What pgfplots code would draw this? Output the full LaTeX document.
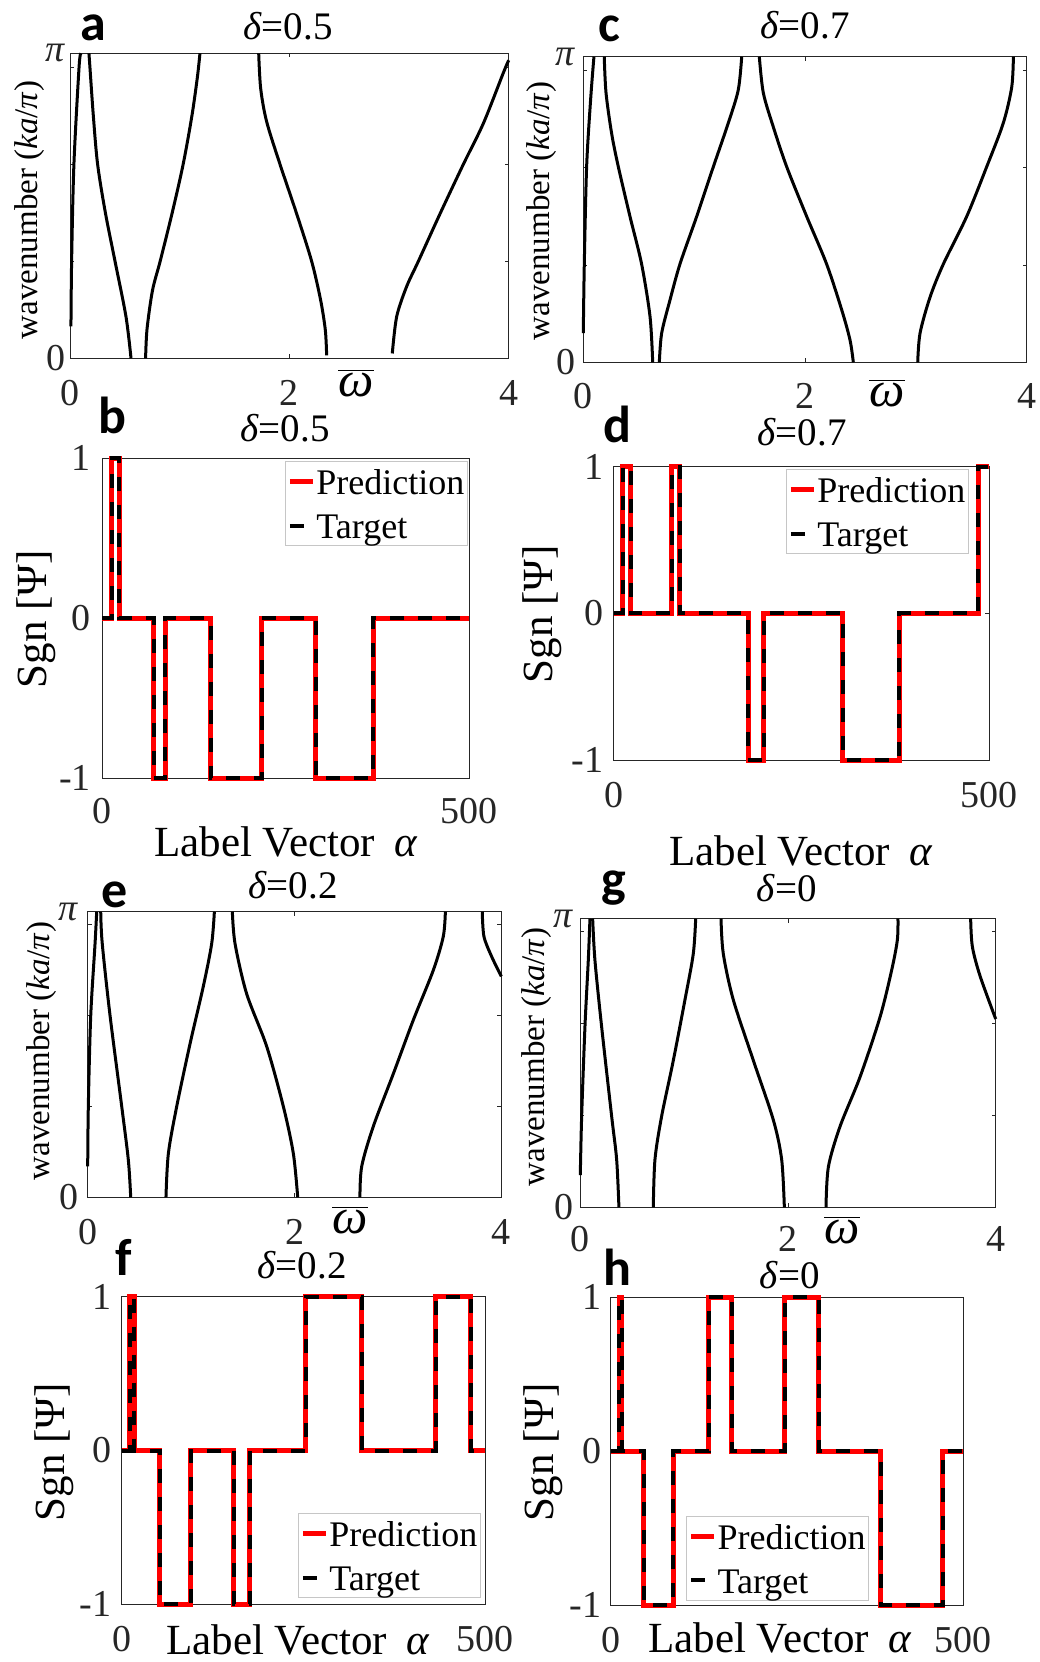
\documentclass[border=0pt]{standalone}
\usepackage{pgfplots}
\pgfplotsset{compat=1.18}
\usepackage{pgfplotstable}
\usepackage{fontspec}
\setmainfont{Liberation Serif}
\newfontfamily\panelfont{Carlito}
\definecolor{axgray}{HTML}{262626}

\pgfplotsset{
  base/.style={scale only axis, clip=false,
    axis line style={axgray, line width=0.5pt},
    tick style={axgray, line width=0.5pt},
    major tick length=2pt, tick align=inside,
    xtick pos=both, ytick pos=both,
    /pgf/number format/assume math mode=true,
    tick label style={font=\fontsize{19}{22}\selectfont, inner sep=0pt, text=axgray}},
  disp/.style={base, xmin=0, xmax=4, ymin=0, ymax=3.14159,
    xtick={0,2,4}, xticklabels={0,2,4},
    ytick={0,1,2,3}, yticklabels={0,{},{},{}},
    extra y ticks={3.14159}, extra y tick labels={\textit{π}},
    extra y tick style={major tick length=0pt}},
  sgn/.style={base, xmin=0, xmax=500, ymin=-1, ymax=1,
    xtick={0,500}, xticklabels={0,500},
    ytick={-1,0,1}, yticklabels={-1,0,1},
    legend style={draw=gray!45, line width=0.6pt, fill=white,
      font=\fontsize{18}{20}\selectfont, inner xsep=1pt, inner ysep=1.5pt,
      row sep=5pt, nodes={inner sep=0.5pt},
      cells={anchor=west}},
    legend image code/.code={\draw[##1] (0pt,0pt) -- (11.5pt,0pt);}},
  curve/.style={black, line width=1.5pt, smooth},
  pred/.style={red, line width=2.5pt},
  targ/.style={black, line width=2pt, dash pattern=on 7pt off 7pt},
}

\pgfplotstableread{
x y
0 0
13 0
13 1
23 1
23 0
70 0
70 -1
86 -1
86 0
148 0
148 -1
217 -1
217 0
291 0
291 -1
369 -1
369 0
500 0
}\tabB

\pgfplotstableread{
x y
0 0
12 0
12 1
23 1
23 0
77 0
77 1
88 1
88 0
179 0
179 -1
200 -1
200 0
305 0
305 -1
380 -1
380 0
485 0
485 1
500 1
}\tabD

\pgfplotstableread{
x y
0 0
11 0
11 1
17 1
17 0
52 0
52 -1
95 -1
95 0
154 0
154 -1
176 -1
176 0
253 0
253 1
330 1
330 0
432 0
432 1
480 1
480 0
500 0
}\tabF

\pgfplotstableread{
x y
0 0
12 0
12 1
16 1
16 0
47 0
47 -1
89 -1
89 0
139 0
139 1
172 1
172 0
247 0
247 1
295 1
295 0
383 0
383 -1
471 -1
471 0
500 0
}\tabH

\newcommand{\wbar}{$\overline{\hbox{\itshape ω}}$}
\newcommand{\ls}{\rule[-5pt]{0pt}{19.5pt}}

\begin{document}
\begin{tikzpicture}
\useasboundingbox (0pt,0pt) rectangle (520pt,-831pt);

% ---------- panel a ----------
\begin{axis}[disp, at={(35.15pt,-179.15pt)}, anchor=south west,
  width=219.2pt, height=152.5pt,
  xticklabel style={yshift=-11pt}, yticklabel style={xshift=-2pt}]
\addplot[curve] coordinates {(0.006,0.33) (0.012,1.0) (0.033,2.0) (0.08,3.0) (0.097,3.1416)};
\addplot[curve] coordinates {(0.170,3.1416) (0.179,3.0) (0.21,2.5) (0.249,2.0) (0.32,1.5) (0.408,1.0) (0.508,0.43) (0.554,0)};
\addplot[curve] coordinates {(0.687,0) (0.70,0.3) (0.75,0.7) (0.82,1.0) (0.93,1.5) (1.03,2.0) (1.11,2.5) (1.16,2.9) (1.183,3.1416)};
\addplot[curve] coordinates {(1.719,3.1416) (1.737,2.78) (1.791,2.44) (1.913,2.0) (2.065,1.49) (2.202,1.0) (2.284,0.60) (2.327,0.29) (2.339,0.03)};
\addplot[curve] coordinates {(2.938,0.05) (2.978,0.43) (3.069,0.74) (3.176,1.0) (3.374,1.49) (3.587,2.0) (3.769,2.42) (3.951,2.94) (4.0,3.07)};
\end{axis}

% ---------- panel c ----------
\begin{axis}[disp, at={(291.65pt,-181.15pt)}, anchor=south west,
  width=221.7pt, height=152.8pt,
  xticklabel style={yshift=-10.5pt}, yticklabel style={xshift=-3.5pt}]
\addplot[curve] coordinates {(0,0.30) (0.009,1.01) (0.030,2.01) (0.066,2.70) (0.096,3.1416)};
\addplot[curve] coordinates {(0.189,3.1416) (0.205,2.77) (0.256,2.35) (0.316,2.01) (0.421,1.50) (0.526,1.01) (0.602,0.47) (0.626,0)};
\addplot[curve] coordinates {(0.686,0) (0.707,0.30) (0.782,0.64) (0.872,1.01) (1.023,1.50) (1.173,2.01) (1.308,2.46) (1.398,2.80) (1.429,3.1416)};
\addplot[curve] coordinates {(1.588,3.1416) (1.624,2.77) (1.714,2.42) (1.835,2.01) (2.015,1.50) (2.195,1.01) (2.331,0.54) (2.406,0.23) (2.436,0)};
\addplot[curve] coordinates {(3.017,0) (3.038,0.30) (3.128,0.67) (3.248,1.01) (3.459,1.50) (3.639,2.01) (3.789,2.46) (3.865,2.83) (3.880,3.1416)};
\end{axis}

% ---------- panel b ----------
\begin{axis}[sgn, at={(51.15pt,-389.15pt)}, anchor=south west,
  width=183.5pt, height=160pt,
  xticklabel style={yshift=-10pt}, yticklabel style={xshift=-5.5pt},
  legend style={at={(0.9965,0.9916)}, anchor=north east}]
\addplot[pred] table {\tabB};
\addplot[targ] table {\tabB};
\legend{\ls Prediction, \ls Target}
\end{axis}

% ---------- panel d ----------
\begin{axis}[sgn, at={(306.85pt,-380pt)}, anchor=south west,
  width=187.8pt, height=146.65pt,
  xticklabel style={yshift=-11pt}, yticklabel style={xshift=-5pt},
  legend style={at={(0.946,0.992)}, anchor=north east}]
\addplot[pred] table {\tabD};
\addplot[targ] table {\tabD};
\legend{\ls Prediction, \ls Target}
\end{axis}

% ---------- panel e ----------
\begin{axis}[disp, at={(43.85pt,-598.65pt)}, anchor=south west,
  width=206.8pt, height=142.8pt,
  xticklabel style={yshift=-11pt}, yticklabel style={xshift=-4.5pt}]
\addplot[curve] coordinates {(0,0.34) (0.006,1.0) (0.029,1.99) (0.071,2.79) (0.087,3.1416)};
\addplot[curve] coordinates {(0.126,3.1416) (0.14,2.8) (0.216,2.0) (0.329,1.0) (0.393,0.41) (0.416,0)};
\addplot[curve] coordinates {(0.757,0) (0.780,0.48) (0.861,1.0) (0.990,1.69) (1.118,2.32) (1.199,2.79) (1.225,3.1416)};
\addplot[curve] coordinates {(1.399,3.1416) (1.425,2.79) (1.537,2.24) (1.731,1.66) (1.892,1.0) (1.989,0.48) (2.031,0)};
\addplot[curve] coordinates {(2.633,0) (2.650,0.34) (2.762,0.78) (2.956,1.36) (3.149,1.95) (3.343,2.50) (3.439,2.87) (3.459,3.1416)};
\addplot[curve] coordinates {(3.816,3.1416) (3.832,2.87) (3.906,2.65) (4.0,2.43)};
\end{axis}

% ---------- panel g ----------
\begin{axis}[disp, at={(290.15pt,-603.65pt)}, anchor=south west,
  width=207.7pt, height=144.3pt,
  xticklabel style={yshift=-9.5pt}, yticklabel style={xshift=-3pt}]
\addplot[curve] coordinates {(0,0.35) (0.013,0.99) (0.045,1.97) (0.077,2.69) (0.093,3.1416)};
\addplot[curve] coordinates {(0.119,3.1416) (0.141,2.69) (0.205,1.97) (0.302,0.99) (0.350,0.52) (0.372,0)};
\addplot[curve] coordinates {(0.703,0) (0.719,0.52) (0.783,0.99) (0.896,1.60) (1.008,2.26) (1.088,2.76) (1.111,3.1416)};
\addplot[curve] coordinates {(1.355,3.1416) (1.377,2.76) (1.473,2.26) (1.666,1.60) (1.859,0.95) (1.939,0.52) (1.965,0)};
\addplot[curve] coordinates {(2.366,0) (2.389,0.44) (2.501,0.88) (2.694,1.42) (2.886,2.07) (2.998,2.58) (3.053,2.91) (3.059,3.1416)};
\addplot[curve] coordinates {(3.759,3.1416) (3.775,2.84) (3.849,2.52) (4.0,2.05)};
\end{axis}

% ---------- panel f ----------
\begin{axis}[sgn, at={(60.85pt,-802.15pt)}, anchor=south west,
  width=181.8pt, height=153.8pt,
  xticklabel style={yshift=-11pt}, yticklabel style={xshift=-5pt},
  legend style={at={(0.988,0.020)}, anchor=south east}]
\addplot[pred] table {\tabF};
\addplot[targ] table {\tabF};
\legend{\ls Prediction, \ls Target}
\end{axis}

% ---------- panel h ----------
\begin{axis}[sgn, at={(305.35pt,-802.5pt)}, anchor=south west,
  width=176.3pt, height=153.9pt,
  xticklabel style={yshift=-11pt}, yticklabel style={xshift=-4.5pt},
  legend style={at={(0.2136,0.013)}, anchor=south west}]
\addplot[pred] table {\tabH};
\addplot[targ] table {\tabH};
\legend{\ls Prediction, \ls Target}
\end{axis}

% ---------- text ----------
\begin{scope}[x=0.5pt, y=-0.5pt]
\tikzset{let/.style={font=\panelfont\bfseries\fontsize{26}{28}\selectfont},
  ttl/.style={font=\fontsize{19.5}{22}\selectfont},
  wl/.style={rotate=90, font=\fontsize{16.5}{18}\selectfont},
  sl/.style={rotate=90, font=\fontsize{21.5}{24}\selectfont},
  ll/.style={font=\fontsize{21.5}{24}\selectfont},
  om/.style={font=\fontsize{25}{27}\selectfont}}
% letters
\node[let] at (93,28) {a};
\node[let] at (112,415) {b};
\node[let] at (609,29) {c};
\node[let] at (617,424) {d};
\node[let] at (115,895) {e};
\node[let] at (124,1257) {f};
\node[let] at (614,888) {g};
\node[let] at (617,1267) {h};
% titles
\node[ttl] at (288,26) {\textit{δ}=0.5};
\node[ttl] at (805,25) {\textit{δ}=0.7};
\node[ttl] at (285,428) {\textit{δ}=0.5};
\node[ttl] at (802,432) {\textit{δ}=0.7};
\node[ttl] at (293,885) {\textit{δ}=0.2};
\node[ttl] at (787,888) {\textit{δ}=0};
\node[ttl] at (302,1265) {\textit{δ}=0.2};
\node[ttl] at (790,1275) {\textit{δ}=0};
% y labels
\node[wl] at (30,210) {wavenumber (\textit{ka}/\textit{π})};
\node[wl] at (542,211) {wavenumber (\textit{ka}/\textit{π})};
\node[wl] at (42,1051) {wavenumber (\textit{ka}/\textit{π})};
\node[wl] at (537,1057) {wavenumber (\textit{ka}/\textit{π})};
\node[sl] at (36,619) {Sgn [Ψ]};
\node[sl] at (542,614) {Sgn [Ψ]};
\node[sl] at (54,1452) {Sgn [Ψ]};
\node[sl] at (543,1452) {Sgn [Ψ]};
% x labels
\node[om] at (356,383) {\wbar};
\node[om] at (887,393) {\wbar};
\node[om] at (350,1220) {\wbar};
\node[om] at (842,1230) {\wbar};
\node[ll] at (286,842) {Label Vector\hspace{0.45em}\textit{α}};
\node[ll] at (801,851) {Label Vector\hspace{0.45em}\textit{α}};
\node[ll] at (298,1640) {Label Vector\hspace{0.45em}\textit{α}};
\node[ll] at (780,1638) {Label Vector\hspace{0.45em}\textit{α}};
\end{scope}
\end{tikzpicture}
\end{document}
